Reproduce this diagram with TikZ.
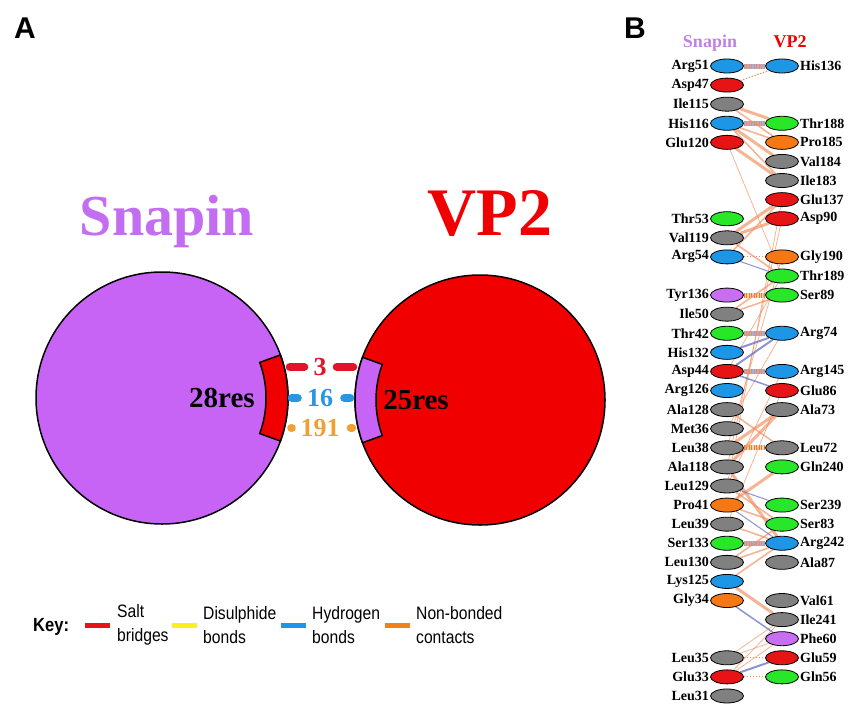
\documentclass[tikz,border=0pt]{standalone}
\usepackage{fontspec}
\setmainfont{Liberation Serif}
\newfontfamily\keyfont[FakeStretch=0.87]{Liberation Sans}
\newfontfamily\panelfont{Liberation Sans}
\usetikzlibrary{positioning,shapes.geometric,calc,backgrounds}

\definecolor{snapcol}{RGB}{200,100,245}
\definecolor{snaptext}{RGB}{195,110,240}
\definecolor{snaphead}{RGB}{190,130,230}
\definecolor{vpred}{RGB}{240,0,0}
\definecolor{resblue}{RGB}{30,150,230}
\definecolor{resred}{RGB}{230,20,20}
\definecolor{resgray}{RGB}{128,128,128}
\definecolor{resgreen}{RGB}{40,230,40}
\definecolor{resorange}{RGB}{245,120,20}
\definecolor{respurple}{RGB}{200,110,240}
\definecolor{nbcol}{RGB}{240,140,90}
\definecolor{hbcol}{RGB}{110,120,200}
\definecolor{saltnum}{RGB}{225,20,40}
\definecolor{hbnum}{RGB}{40,150,230}
\definecolor{nbnum}{RGB}{240,160,50}
\definecolor{keyyellow}{RGB}{250,240,30}
\definecolor{keyorange}{RGB}{240,130,30}

\tikzset{
  res/.style={draw, ellipse, minimum width=33pt, minimum height=14pt, inner sep=0pt, line width=0.8pt, fill=#1},
  reslab/.style={font=\bfseries\fontsize{14}{15}\selectfont, inner sep=1pt},
  nb/.style={draw=nbcol, line width=#1, opacity=0.65},
  nb/.default=1.6pt,
  nbdot/.style={draw=nbcol, line width=1pt, dash pattern=on 1.5pt off 1.5pt},
  hb/.style={draw=hbcol, line width=#1, opacity=0.8},
  hb/.default=1pt,
  hatch/.style={draw=hbcol!60, line width=5pt, postaction={draw=nbcol, line width=5pt, dash pattern=on 1pt off 1.5pt}},
  nbhatch/.style={draw=nbcol!40, line width=5pt, postaction={draw=resorange, line width=5pt, dash pattern=on 1pt off 1.5pt}},
  stub/.style={draw=#1, line width=8pt, line cap=round},
  keyline/.style={draw=#1, line width=5pt},
  keytext/.style={font=\keyfont\fontsize{18}{24}\selectfont, anchor=west, align=left, inner sep=0pt},
  num/.style={font=\bfseries\fontsize{26}{28}\selectfont, inner sep=0pt, text=#1}
}

\begin{document}
\begin{tikzpicture}[x=1pt, y=-1pt]
\useasboundingbox (0,0) rectangle (854,712);

% panel letters
\node[font=\panelfont\bfseries\fontsize{30}{32}\selectfont, anchor=base west, inner sep=0pt] (pa) at (14,38) {A};
\node[font=\panelfont\bfseries\fontsize{30}{32}\selectfont, anchor=base west, inner sep=0pt] (pb) at (624,38) {B};

% panel A: the two proteins
\node[font=\bfseries\fontsize{58}{60}\selectfont, text=snaptext, anchor=base] (tsnap) at (167,235) {Snapin};
\node[font=\bfseries\fontsize{68}{70}\selectfont, text=vpred, anchor=base] (tvp) at (490,235) {VP2};
\node[draw, circle, fill=snapcol, line width=1.5pt, minimum size=252pt, inner sep=0pt] (snapin) at (162,398) {};
\node[draw, circle, fill=vpred, line width=1.5pt, minimum size=250pt, inner sep=0pt] (vp2) at (480,400) {};

% interface patches
\draw[line width=1.5pt, fill=vpred] ($(snapin.center)+(-20:104)$) arc[start angle=-20, end angle=20, radius=104]
  -- ($(snapin.center)+(20:126)$) arc[start angle=20, end angle=-20, radius=126] -- cycle;
\draw[line width=1.5pt, fill=snapcol] ($(vp2.center)+(160:104)$) arc[start angle=160, end angle=200, radius=104]
  -- ($(vp2.center)+(200:125)$) arc[start angle=200, end angle=160, radius=125] -- cycle;
\node[font=\bfseries\fontsize{29}{30}\selectfont] (snapres) at (222,398) {28res};
\node[font=\bfseries\fontsize{29}{30}\selectfont] (vpres) at (416,400) {25res};

% interface counts
\node[num=saltnum] (nsalt) at (320,367) {3};
\node[num=hbnum] (nhbond) at (320,398) {16};
\node[num=nbnum] (nnonb) at (320,428) {191};
\draw[stub=saltnum, shorten <=9pt, shorten >=1pt] (nsalt.west) -- (nsalt.west -| snapin.east);
\draw[stub=saltnum, shorten <=10pt, shorten >=1pt] (nsalt.east) -- (nsalt.east -| vp2.west);
\draw[stub=hbnum, shorten <=9pt, shorten >=3pt] (nhbond.west) -- (nhbond.west -| snapin.east);
\draw[stub=hbnum, shorten <=11pt, shorten >=4pt] (nhbond.east) -- (nhbond.east -| vp2.west);
\draw[stub=nbnum, shorten <=8.5pt, shorten >=2.5pt] (nnonb.west) -- (nnonb.west -| snapin.east);
\draw[stub=nbnum, shorten <=11pt, shorten >=2pt] (nnonb.east) -- (nnonb.east -| vp2.west);

% key
\node[font=\keyfont\bfseries\fontsize{19}{22}\selectfont, anchor=west, inner sep=0pt] (key) at (33,627) {Key:};
\node[keytext] (keysalt) at (117,625) {Salt\\bridges};
\node[keytext] (keyss) at (203,625) {Disulphide\\bonds};
\node[keytext] (keyhb) at (312,625) {Hydrogen\\bonds};
\node[keytext] (keynb) at (416,625) {Non-bonded\\contacts};
\draw[keyline=resred] ([xshift=-32pt]keysalt.west) -- ([xshift=-7pt]keysalt.west);
\draw[keyline=keyyellow] ([xshift=-31pt]keyss.west) -- ([xshift=-6pt]keyss.west);
\draw[keyline=resblue] ([xshift=-31pt]keyhb.west) -- ([xshift=-6pt]keyhb.west);
\draw[keyline=keyorange] ([xshift=-31pt]keynb.west) -- ([xshift=-6pt]keynb.west);

% panel B headers
\node[font=\bfseries\fontsize{18}{20}\selectfont, text=snaphead, anchor=base] (hsnap) at (710,47) {Snapin};
\node[font=\bfseries\fontsize{18}{20}\selectfont, text=vpred, anchor=base] (hvp) at (790,47) {VP2};

% panel B: residues, one row per 19.09pt
\begin{scope}[shift={(727,66)}, x=55pt, y=-19.09pt]
% Snapin side
\node[res=resblue, label={[reslab]left:Arg51}] (arg51) at (0,0) {};
\node[res=resred, label={[reslab]left:Asp47}] (asp47) at (0,1) {};
\node[res=resgray, label={[reslab]left:Ile115}] (ile115) at (0,2) {};
\node[res=resblue, label={[reslab]left:His116}] (his116) at (0,3) {};
\node[res=resred, label={[reslab]left:Glu120}] (glu120) at (0,4) {};
\node[res=resgreen, label={[reslab]left:Thr53}] (thr53) at (0,8) {};
\node[res=resgray, label={[reslab]left:Val119}] (val119) at (0,9) {};
\node[res=resblue, label={[reslab]left:Arg54}] (arg54) at (0,10) {};
\node[res=respurple, label={[reslab]left:Tyr136}] (tyr136) at (0,12) {};
\node[res=resgray, label={[reslab]left:Ile50}] (ile50) at (0,13) {};
\node[res=resgreen, label={[reslab]left:Thr42}] (thr42) at (0,14) {};
\node[res=resblue, label={[reslab]left:His132}] (his132) at (0,15) {};
\node[res=resred, label={[reslab]left:Asp44}] (asp44) at (0,16) {};
\node[res=resblue, label={[reslab]left:Arg126}] (arg126) at (0,17) {};
\node[res=resgray, label={[reslab]left:Ala128}] (ala128) at (0,18) {};
\node[res=resgray, label={[reslab]left:Met36}] (met36) at (0,19) {};
\node[res=resgray, label={[reslab]left:Leu38}] (leu38) at (0,20) {};
\node[res=resgray, label={[reslab]left:Ala118}] (ala118) at (0,21) {};
\node[res=resgray, label={[reslab]left:Leu129}] (leu129) at (0,22) {};
\node[res=resorange, label={[reslab]left:Pro41}] (pro41) at (0,23) {};
\node[res=resgray, label={[reslab]left:Leu39}] (leu39) at (0,24) {};
\node[res=resgreen, label={[reslab]left:Ser133}] (ser133) at (0,25) {};
\node[res=resgray, label={[reslab]left:Leu130}] (leu130) at (0,26) {};
\node[res=resblue, label={[reslab]left:Lys125}] (lys125) at (0,27) {};
\node[res=resorange, label={[reslab]left:Gly34}] (gly34) at (0,28) {};
\node[res=resgray, label={[reslab]left:Leu35}] (leu35) at (0,31) {};
\node[res=resred, label={[reslab]left:Glu33}] (glu33) at (0,32) {};
\node[res=resgray, label={[reslab]left:Leu31}] (leu31) at (0,33) {};
% VP2 side
\node[res=resblue, label={[reslab]right:His136}] (his136) at (1,0) {};
\node[res=resgreen, label={[reslab]right:Thr188}] (thr188) at (1,3) {};
\node[res=resorange, label={[reslab]right:Pro185}] (pro185) at (1,4) {};
\node[res=resgray, label={[reslab]right:Val184}] (val184) at (1,5) {};
\node[res=resgray, label={[reslab]right:Ile183}] (ile183) at (1,6) {};
\node[res=resred, label={[reslab]right:Glu137}] (glu137) at (1,7) {};
\node[res=resred, label={[reslab]right:Asp90}] (asp90) at (1,8) {};
\node[res=resorange, label={[reslab]right:Gly190}] (gly190) at (1,10) {};
\node[res=resgreen, label={[reslab]right:Thr189}] (thr189) at (1,11) {};
\node[res=resgreen, label={[reslab]right:Ser89}] (ser89) at (1,12) {};
\node[res=resblue, label={[reslab]right:Arg74}] (arg74) at (1,14) {};
\node[res=resblue, label={[reslab]right:Arg145}] (arg145) at (1,16) {};
\node[res=resred, label={[reslab]right:Glu86}] (glu86) at (1,17) {};
\node[res=resgray, label={[reslab]right:Ala73}] (ala73) at (1,18) {};
\node[res=resgray, label={[reslab]right:Leu72}] (leu72) at (1,20) {};
\node[res=resgreen, label={[reslab]right:Gln240}] (gln240) at (1,21) {};
\node[res=resgreen, label={[reslab]right:Ser239}] (ser239) at (1,23) {};
\node[res=resgreen, label={[reslab]right:Ser83}] (ser83) at (1,24) {};
\node[res=resblue, label={[reslab]right:Arg242}] (arg242) at (1,25) {};
\node[res=resgray, label={[reslab]right:Ala87}] (ala87) at (1,26) {};
\node[res=resgray, label={[reslab]right:Val61}] (val61) at (1,28) {};
\node[res=resgray, label={[reslab]right:Ile241}] (ile241) at (1,29) {};
\node[res=respurple, label={[reslab]right:Phe60}] (phe60) at (1,30) {};
\node[res=resred, label={[reslab]right:Glu59}] (glu59) at (1,31) {};
\node[res=resgreen, label={[reslab]right:Gln56}] (gln56) at (1,32) {};
\end{scope}

% contacts between the two chains
\begin{scope}[on background layer]
\draw[hatch] (arg51) -- (his136);
\draw[hatch] (his116) -- (thr188);
\draw[hatch] (thr42) -- (arg74);
\draw[hatch] (asp44) -- (arg145);
\draw[hatch] (ser133) -- (arg242);
\draw[nbhatch] (tyr136) -- (ser89);
\draw[nbhatch] (leu38) -- (leu72);
\draw[nbdot] (asp47) -- (his136);
\draw[nbdot] (arg54) -- (gly190);
\draw[nbdot] (leu35) -- (glu59);
\draw[nbdot] (glu33) -- (gln56);
\draw[nb=3pt] (ile115) -- (thr188);
\draw[nb=3pt] (his116) -- (val184);
\draw[nb=3pt] (glu120) -- (ile183);
\draw[nb=3pt] (val119) -- (asp90);
\draw[nb=3pt] (val119) -- (glu137);
\draw[nb=3pt] (ala73) -- (leu38);
\draw[nb=3pt] (ala73) -- (ala118);
\draw[nb=3pt] (gln240) -- (pro41);
\draw[nb=3pt] (ala118) -- (arg242);
\draw[nb=3pt] (lys125) -- (ile241);
\draw[nb] (ile115) -- (pro185);
\draw[nb] (his116) -- (pro185);
\draw[nb] (his116) -- (ile183);
\draw[nb] (arg54) -- (glu137);
\draw[nb] (val119) -- (thr189);
\draw[nb] (ile50) -- (thr189);
\draw[nb] (ile50) -- (ser89);
\draw[nb] (ala128) -- (leu72);
\draw[nb] (leu129) -- (ser83);
\draw[nb] (pro41) -- (ser83);
\draw[nb] (leu39) -- (arg242);
\draw[nb] (leu130) -- (arg242);
\draw[nb] (leu130) -- (ser83);
\draw[nb] (lys125) -- (arg242);
\draw[nb=0.8pt] (glu120) -- (thr189);
\draw[nb=0.8pt] (asp90) -- (ala118);
\draw[nb=0.8pt] (glu137) -- (leu129);
\draw[nb=0.8pt] (gly190) -- (leu38);
\draw[nb=0.8pt] (arg74) -- (met36);
\draw[nb=0.8pt] (arg145) -- (leu129);
\draw[nb=0.8pt] (glu86) -- (leu39);
\draw[nb=0.8pt] (thr189) -- (asp44);
\draw[nb=0.8pt] (leu35) -- (ile241);
\draw[nb=0.8pt] (glu33) -- (ile241);
\draw[nb=0.8pt] (glu33) -- (phe60);
\draw[nb=0.8pt] (leu35) -- (phe60);
\draw[hb] (arg54) -- (thr189);
\draw[hb=2pt] (his132) -- (arg74);
\draw[hb=2pt] (asp44) -- (arg74);
\draw[hb=1.5pt] (asp44) -- (glu86);
\draw[hb] (leu129) -- (ser239);
\draw[hb] (pro41) -- (arg242);
\draw[hb=1.5pt] (gly34) -- (phe60);
\draw[hb=2pt] (glu33) -- (glu59);
\end{scope}

\end{tikzpicture}
\end{document}
